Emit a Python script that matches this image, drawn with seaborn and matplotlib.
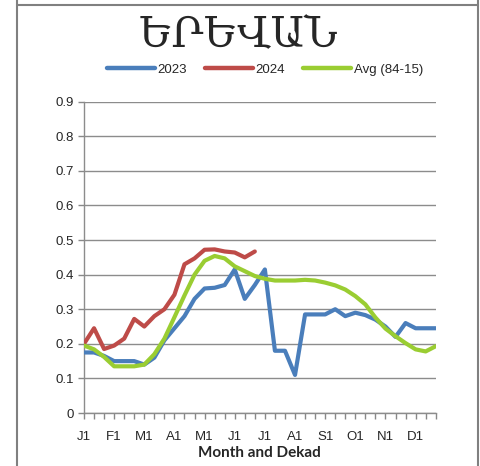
import matplotlib
matplotlib.use("Agg")
import matplotlib.pyplot as plt
import seaborn as sns
import pandas as pd
import numpy as np
from matplotlib.lines import Line2D

# ---- data ----
dekads = list(range(36))
tick_pos = [0, 3, 6, 9, 12, 15, 18, 21, 24, 27, 30, 33]
tick_labels = ["J1", "F1", "M1", "A1", "M1", "J1", "J1", "A1", "S1", "O1", "N1", "D1"]

y2023 = [0.175, 0.175, 0.165, 0.15, 0.15, 0.15, 0.14, 0.16, 0.21, 0.245, 0.28, 0.33,
         0.36, 0.362, 0.37, 0.415, 0.33, 0.37, 0.415, 0.18, 0.18, 0.11, 0.285, 0.285,
         0.285, 0.30, 0.28, 0.29, 0.283, 0.27, 0.25, 0.22, 0.26, 0.245, 0.245, 0.245]
y2024 = [0.20, 0.245, 0.185, 0.195, 0.215, 0.272, 0.25, 0.28, 0.30, 0.342, 0.43, 0.447,
         0.472, 0.473, 0.467, 0.464, 0.45, 0.467]
yavg = [0.195, 0.184, 0.162, 0.135, 0.135, 0.135, 0.14, 0.17, 0.215, 0.277, 0.34, 0.40,
        0.44, 0.454, 0.447, 0.424, 0.41, 0.396, 0.388, 0.383, 0.383, 0.383, 0.385, 0.383,
        0.377, 0.369, 0.357, 0.338, 0.314, 0.276, 0.244, 0.222, 0.202, 0.184, 0.178, 0.193]

series_names = ["2023", "2024", "Avg (84-15)"]
colors = {"2023": "#4a7ebb", "2024": "#be4b48", "Avg (84-15)": "#9acd32"}

df = pd.concat([
    pd.DataFrame({"dekad": dekads, "value": y2023, "series": "2023"}),
    pd.DataFrame({"dekad": dekads[:len(y2024)], "value": y2024, "series": "2024"}),
    pd.DataFrame({"dekad": dekads, "value": yavg, "series": "Avg (84-15)"}),
])

sns.set_style("white")
plt.rcParams["font.family"] = ["Liberation Sans", "DejaVu Sans"]

W, H = 481, 466
fig = plt.figure(figsize=(W / 100, H / 100), dpi=100)
ax = fig.add_axes([84 / W, 1 - 413 / H, (435.7 - 84) / W, (413 - 101.7) / H])

for s in series_names:
    sns.lineplot(data=df[df.series == s], x="dekad", y="value", color=colors[s],
                 linewidth=3.0, ax=ax, legend=False, sort=False, zorder=3)

ax.set_xlim(0, 35)
ax.set_ylim(0, 0.9)
ax.set_yticks(np.round(np.arange(0, 0.91, 0.1), 1))
ax.set_yticklabels(["0"] + [f"{v:.1f}" for v in np.arange(0.1, 0.91, 0.1)], fontsize=9.5)
ax.set_xticks(dekads, minor=True)
ax.set_xticks(tick_pos)
ax.set_xticklabels(tick_labels, fontsize=9.5)
ax.tick_params(axis="x", which="both", direction="out", length=4, color="#888888", width=1,
               bottom=True, pad=9)
ax.tick_params(axis="y", direction="out", length=4, color="#888888", width=1, left=True, pad=3)
ax.grid(axis="y", color="#8c8c8c", linewidth=1)
ax.set_axisbelow(True)
for sp in ["top", "right"]:
    ax.spines[sp].set_visible(False)
for sp in ["left", "bottom"]:
    ax.spines[sp].set_color("#8c8c8c")
    ax.spines[sp].set_linewidth(1)
ax.set_xlabel("Month and Dekad", fontsize=11, fontweight="bold", family=["Lato", "DejaVu Sans"],
              labelpad=2)
ax.set_ylabel("")

# title
fig.text(238 / W, 1 - 35 / H, "ԵՐԵՎԱՆ", ha="center", va="center", fontsize=30,
         family=["DejaVu Serif", "DejaVu Sans"])

# legend
handles = [Line2D([], [], color=colors[s], linewidth=3.2) for s in series_names]
fig.legend(handles, series_names, loc="center", bbox_to_anchor=(265 / W, 1 - 70 / H),
           ncol=3, frameon=False, fontsize=9.5, handlelength=3.6, handletextpad=0.2,
           columnspacing=1.4)

# frame
fig.add_artist(Line2D([17 / W, 17 / W], [0, 1], transform=fig.transFigure, color="#808080", lw=1.5))
fig.add_artist(Line2D([478 / W, 478 / W], [0, 1], transform=fig.transFigure, color="#808080", lw=1.5))
fig.add_artist(Line2D([17 / W, 478 / W], [1 - 5 / H, 1 - 5 / H], transform=fig.transFigure,
                      color="#808080", lw=1.5))

fig.savefig("out.png", dpi=100)
